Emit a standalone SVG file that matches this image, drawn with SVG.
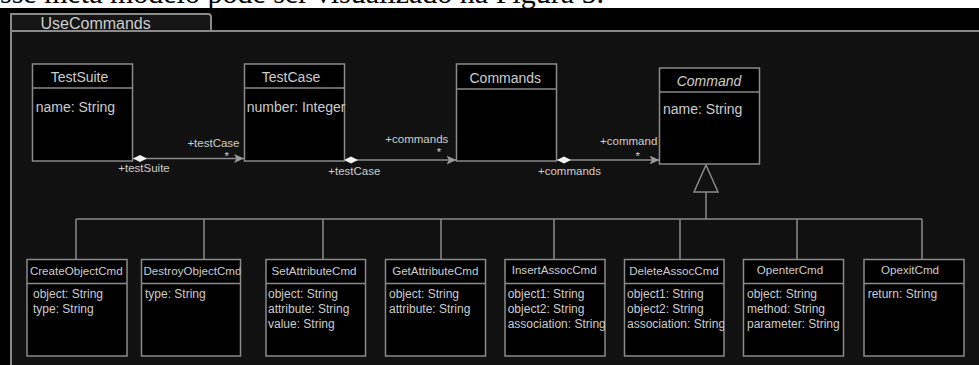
<svg xmlns="http://www.w3.org/2000/svg" width="979" height="365" viewBox="0 0 979 365">
  <defs>
    <style>
      .box{fill:#000;stroke:#8a8a8a;stroke-width:1.5}
      .sep{stroke:#8a8a8a;stroke-width:1.5}
      .t{font-family:"Liberation Sans",Arial,sans-serif;fill:#cdcdcd}
      .title{font-size:14px;text-anchor:middle}
      .attr{font-size:14px}
      .stitle{font-size:11.6px;text-anchor:middle}
      .stitle-left{font-size:11.6px;text-anchor:start}
      .sattr{font-size:12px}
      .lbl{font-size:11.5px}
      .conn{stroke:#8a8a8a;stroke-width:1.5;fill:none}
    </style>
    <marker id="navArrow" markerUnits="userSpaceOnUse" viewBox="0 0 10 10" refX="10" refY="5" markerWidth="10" markerHeight="10" orient="auto">
      <path d="M0,0.5 L10,5 L0,9.5 L2.5,5 Z" fill="#9a9a9a"/>
    </marker>
    <marker id="aggDiamond" markerUnits="userSpaceOnUse" viewBox="0 0 14 8" refX="0" refY="4" markerWidth="14" markerHeight="8" orient="auto">
      <path d="M0,4 L7,0.6 L14,4 L7,7.4 Z" fill="#f2f2f2"/>
    </marker>
    <clipPath id="destroyClip"><rect x="141.5" y="259.5" width="99" height="97"/></clipPath>
    <clipPath id="insertClip"><rect x="505" y="259.5" width="100" height="97"/></clipPath>
    <clipPath id="deleteClip"><rect x="624.5" y="259.5" width="99.5" height="97"/></clipPath>
  </defs>

  <!-- page strip with the cut-off caption line above the figure -->
  <rect x="0" y="0" width="979" height="365" fill="#fff"/>
  <text x="0" y="2.5" font-family="'Liberation Serif','Times New Roman',serif" font-size="30" fill="#000">sse meta modelo pode ser visualizado na Figura 5.</text>
  <rect x="0" y="8" width="979" height="357" fill="#000"/>

  <!-- package frame -->
  <g id="frame">
    <rect x="11" y="31" width="968" height="334" fill="#111"/>
    <path d="M11,31 V14 H208 Q211,14 211,17 V31" fill="#151515" stroke="#8a8a8a" stroke-width="2"/>
    <path d="M11,365 V31 H979" fill="none" stroke="#8a8a8a" stroke-width="2"/>
    <text class="t" x="40.5" y="28.5" font-size="16" fill="#b8b8b8">UseCommands</text>
  </g>

  <!-- connectors -->
  <g id="connectors">
    <line class="conn" x1="133" y1="158.5" x2="244" y2="158.5" marker-start="url(#aggDiamond)" marker-end="url(#navArrow)"/>
    <line class="conn" x1="344" y1="160" x2="456.5" y2="160" marker-start="url(#aggDiamond)" marker-end="url(#navArrow)"/>
    <line class="conn" x1="557" y1="160" x2="659.5" y2="160" marker-start="url(#aggDiamond)" marker-end="url(#navArrow)"/>

    <text class="t lbl" x="239.5" y="146.5" text-anchor="end">+testCase</text>
    <text class="t lbl" x="226.7" y="159.5" text-anchor="middle">*</text>
    <text class="t lbl" x="118.3" y="171.5">+testSuite</text>

    <text class="t lbl" x="448.3" y="142.7" text-anchor="end">+commands</text>
    <text class="t lbl" x="439" y="155.5" text-anchor="middle">*</text>
    <text class="t lbl" x="328.3" y="175">+testCase</text>

    <text class="t lbl" x="657.3" y="145" text-anchor="end">+command</text>
    <text class="t lbl" x="637.7" y="159.5" text-anchor="middle">*</text>
    <text class="t lbl" x="538" y="175">+commands</text>

    <!-- generalization tree -->
    <polygon points="706,165 694,192 718,192" fill="#111" stroke="#8a8a8a" stroke-width="1.5"/>
    <line class="conn" x1="706" y1="192" x2="706" y2="219"/>
    <line class="conn" x1="76" y1="219" x2="922" y2="219"/>
    <path class="conn" d="M76,219 V259.5 M204,219 V259.5 M323,219 V259.5 M441,219 V259.5 M554,219 V259.5 M680,219 V259.5 M797,219 V259.5 M922,219 V259.5"/>
  </g>

  <!-- top row classes -->
  <g id="TestSuite">
    <rect class="box" x="32.5" y="64" width="100" height="97"/>
    <line class="sep" x1="32.5" y1="88" x2="132.5" y2="88"/>
    <text class="t title" x="79.5" y="82">TestSuite</text>
    <text class="t attr" x="35.7" y="111.5">name: String</text>
  </g>
  <g id="TestCase">
    <rect class="box" x="244.5" y="64" width="100" height="97"/>
    <line class="sep" x1="244.5" y1="88" x2="344.5" y2="88"/>
    <text class="t title" x="291" y="82">TestCase</text>
    <text class="t attr" x="246.7" y="111.5">number: Integer</text>
  </g>
  <g id="Commands">
    <rect class="box" x="456.5" y="64" width="100" height="97"/>
    <line class="sep" x1="456.5" y1="89" x2="556.5" y2="89"/>
    <text class="t title" x="505.3" y="82.5">Commands</text>
  </g>
  <g id="Command">
    <rect class="box" x="659.5" y="68" width="100" height="96"/>
    <line class="sep" x1="659.5" y1="92" x2="759.5" y2="92"/>
    <text class="t title" x="709" y="86" font-style="italic">Command</text>
    <text class="t attr" x="663" y="113.5">name: String</text>
  </g>

  <!-- command subclasses -->
  <g id="CreateObjectCmd">
    <rect class="box" x="27" y="259.5" width="100" height="96.5"/>
    <line class="sep" x1="27" y1="283.5" x2="127" y2="283.5"/>
    <text class="t stitle" x="76.3" y="274.5">CreateObjectCmd</text>
    <text class="t sattr" x="33" y="298">object: String</text>
    <text class="t sattr" x="33" y="313">type: String</text>
  </g>
  <g id="DestroyObjectCmd">
    <rect class="box" x="141.5" y="259.5" width="99" height="96.5"/>
    <line class="sep" x1="141.5" y1="283.5" x2="240.5" y2="283.5"/>
    <text class="t stitle-left" x="143.5" y="274.5" clip-path="url(#destroyClip)">DestroyObjectCmd</text>
    <text class="t sattr" x="145" y="298">type: String</text>
  </g>
  <g id="SetAttributeCmd">
    <rect class="box" x="266" y="259.5" width="99.5" height="96.5"/>
    <line class="sep" x1="266" y1="283.5" x2="365.5" y2="283.5"/>
    <text class="t stitle" x="314" y="274.5">SetAttributeCmd</text>
    <text class="t sattr" x="268" y="298">object: String</text>
    <text class="t sattr" x="268" y="313">attribute: String</text>
    <text class="t sattr" x="268" y="328">value: String</text>
  </g>
  <g id="GetAttributeCmd">
    <rect class="box" x="385.5" y="259.5" width="100" height="96.5"/>
    <line class="sep" x1="385.5" y1="283.5" x2="485.5" y2="283.5"/>
    <text class="t stitle" x="435.3" y="274.5">GetAttributeCmd</text>
    <text class="t sattr" x="389" y="298">object: String</text>
    <text class="t sattr" x="389" y="313">attribute: String</text>
  </g>
  <g id="InsertAssocCmd">
    <rect class="box" x="505" y="259.5" width="100" height="96.5"/>
    <line class="sep" x1="505" y1="283.5" x2="605" y2="283.5"/>
    <text class="t stitle" x="554.2" y="274">InsertAssocCmd</text>
    <g clip-path="url(#insertClip)">
      <text class="t sattr" x="507.7" y="298">object1: String</text>
      <text class="t sattr" x="507.7" y="313">object2: String</text>
      <text class="t sattr" x="507.7" y="328">association: String</text>
    </g>
  </g>
  <g id="DeleteAssocCmd">
    <rect class="box" x="624.5" y="259.5" width="99.5" height="96.5"/>
    <line class="sep" x1="624.5" y1="283.5" x2="724" y2="283.5"/>
    <text class="t stitle" x="674" y="274.5">DeleteAssocCmd</text>
    <g clip-path="url(#deleteClip)">
      <text class="t sattr" x="627" y="298">object1: String</text>
      <text class="t sattr" x="627" y="313">object2: String</text>
      <text class="t sattr" x="627" y="328">association: String</text>
    </g>
  </g>
  <g id="OpenterCmd">
    <rect class="box" x="743.5" y="259.5" width="100" height="96.5"/>
    <line class="sep" x1="743.5" y1="283.5" x2="843.5" y2="283.5"/>
    <text class="t stitle" x="790" y="274">OpenterCmd</text>
    <text class="t sattr" x="747" y="298">object: String</text>
    <text class="t sattr" x="747" y="313">method: String</text>
    <text class="t sattr" x="747" y="328">parameter: String</text>
  </g>
  <g id="OpexitCmd">
    <rect class="box" x="864" y="259.5" width="100" height="96.5"/>
    <line class="sep" x1="864" y1="283.5" x2="964" y2="283.5"/>
    <text class="t stitle" x="910" y="273.5">OpexitCmd</text>
    <text class="t sattr" x="867.7" y="298">return: String</text>
  </g>
</svg>
